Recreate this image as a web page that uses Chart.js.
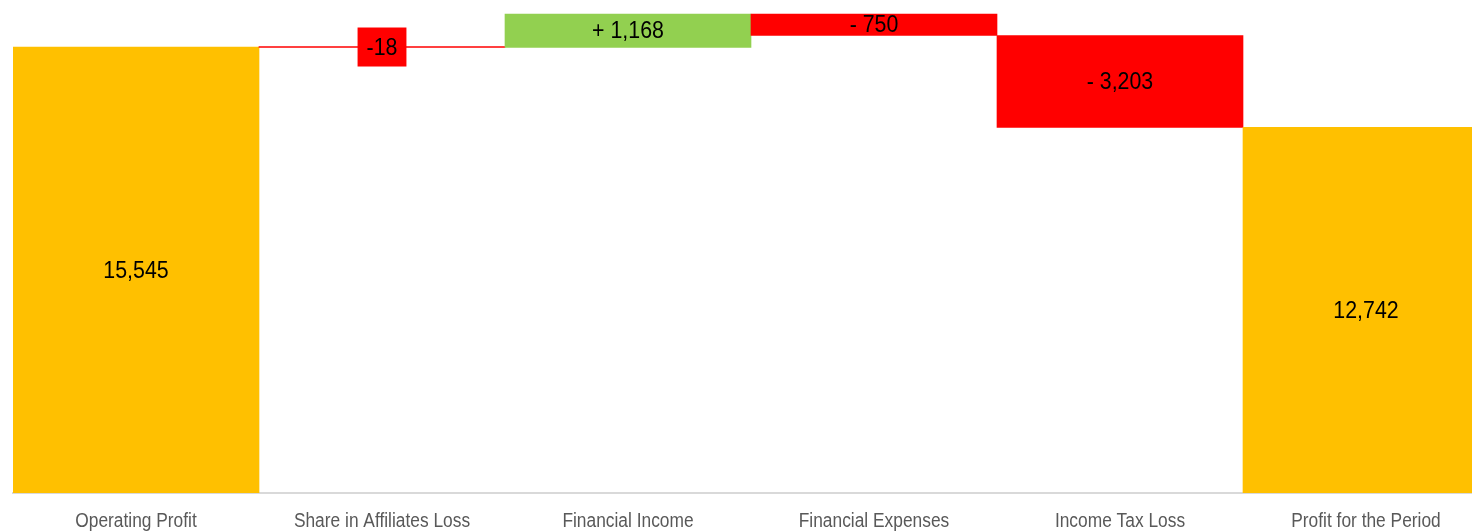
<!DOCTYPE html>
<html>
<head>
<meta charset="utf-8">
<script src="https://cdn.jsdelivr.net/npm/chart.js@4"></script>
<style>
  html, body { margin: 0; padding: 0; background: #fff; overflow: hidden; width: 1472px; height: 531px; }
  #wrap { position: absolute; left: 0; top: 0; width: 1490px; height: 531px; }
</style>
</head>
<body>
<div id="wrap"><canvas id="c" width="1490" height="531"></canvas></div>
<script>
const categories = ["Operating Profit", "Share in Affiliates Loss", "Financial Income", "Financial Expenses", "Income Tax Loss", "Profit for the Period"];
const changes = [15545, -18, 1168, -750, -3203, 12742];
const kinds = ["total", "delta", "delta", "delta", "delta", "total"];
const valueLabels = ["15,545", "-18", "+ 1,168", "- 750", "- 3,203", "12,742"];
const barColors = ["#FFC000", "#FF0000", "#92D050", "#FF0000", "#FF0000", "#FFC000"];
const labelBoxed = [false, true, false, false, false, false];

let running = 0;
const ranges = changes.map((v, i) => {
  if (kinds[i] === "total") { running = v; return [0, v]; }
  const start = running; running += v; return [start, running];
});

const FONT = "'Liberation Sans Narrow', 'Arial Narrow', 'Liberation Sans', Arial, sans-serif";
const CONDENSE = 0.89;

function condensedText(ctx, txt, x, y) {
  ctx.save();
  ctx.translate(x, y);
  ctx.scale(CONDENSE, 1);
  ctx.fillText(txt, 0, 0);
  ctx.restore();
}

const labelPlugin = {
  id: 'wfLabels',
  afterDatasetsDraw(chart) {
    const ctx = chart.ctx;
    const meta = chart.getDatasetMeta(0);
    ctx.save();
    ctx.font = "24px " + FONT;
    ctx.textAlign = "center";
    ctx.textBaseline = "middle";
    meta.data.forEach((bar, i) => {
      const p = bar.getProps(['x', 'y', 'base'], true);
      const cy = (p.y + p.base) / 2;
      const txt = valueLabels[i];
      if (labelBoxed[i]) {
        const w = ctx.measureText(txt).width * CONDENSE;
        const bw = w + 18, bh = 39;
        ctx.fillStyle = barColors[i];
        ctx.fillRect(p.x - bw / 2, cy - bh / 2, bw, bh);
      }
      ctx.fillStyle = "#000000";
      condensedText(ctx, txt, p.x, cy + 1);
    });
    // category labels
    const xs = chart.scales.x;
    ctx.font = "19.5px " + FONT;
    ctx.fillStyle = "#595959";
    ctx.textBaseline = "alphabetic";
    categories.forEach((c, i) => {
      condensedText(ctx, c, xs.getPixelForValue(i), 527);
    });
    ctx.restore();
  }
};

new Chart(document.getElementById('c'), {
  type: 'bar',
  data: {
    labels: categories,
    datasets: [{
      data: ranges,
      backgroundColor: barColors,
      borderWidth: 0,
      barPercentage: 1.0,
      categoryPercentage: 1.0,
      minBarLength: 1
    }]
  },
  options: {
    responsive: false,
    animation: false,
    devicePixelRatio: 1,
    layout: { padding: { left: 13, right: 1, top: 0, bottom: 0 } },
    plugins: { legend: { display: false }, tooltip: { enabled: false } },
    scales: {
      x: {
        grid: { display: false, drawTicks: false },
        border: { display: true, color: "#D9D9D9", width: 2 },
        ticks: { display: false },
        afterFit(scale) { scale.height = 38; }
      },
      y: {
        display: false,
        min: 0,
        max: 17183
      }
    }
  },
  plugins: [labelPlugin]
});
</script>
</body>
</html>
